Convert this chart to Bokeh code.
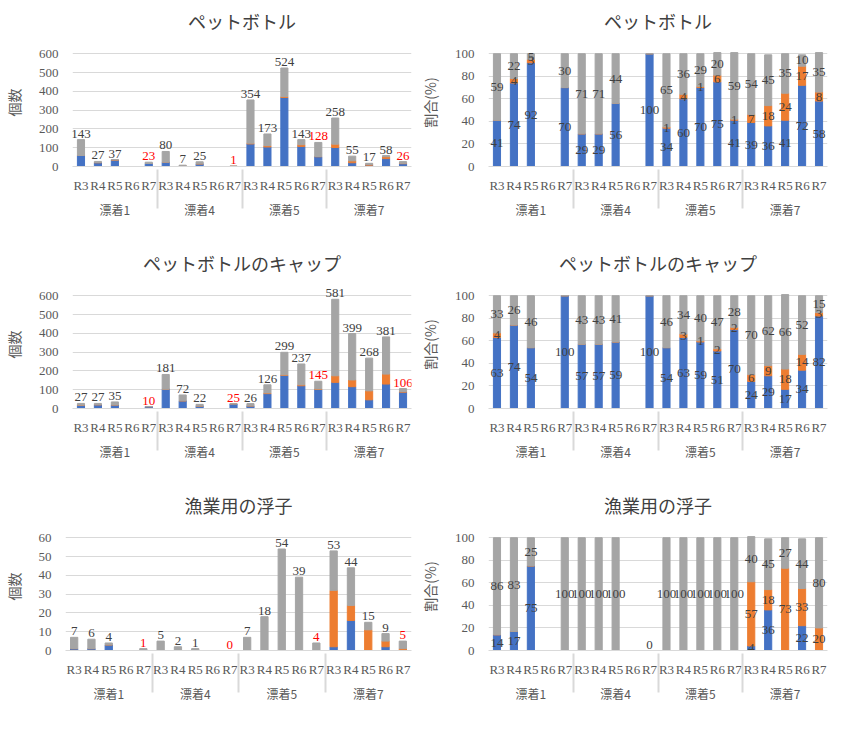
from bokeh.plotting import figure
from bokeh.models import FactorRange, Range1d, Legend, LegendItem, ColumnDataSource
from bokeh.layouts import row
from bokeh.embed import file_html
from bokeh.resources import INLINE
from bokeh.core.properties import value

# ---------------- data ----------------
GROUPS = ["漂着1", "漂着4", "漂着5", "漂着7"]
YEARS = ["R3", "R4", "R5", "R6", "R7"]
SERIES = ["日本", "日本以外", "不明"]
COLORS = ["#4472C4", "#ED7D31", "#A5A5A5"]

# y axis maxima
count_max_big = 600
count_max_small = 60
pct_max = 100

# None = no survey that year
pet_jp =    [59, 20, 34, None, 16,   23, 2, 14, None, 1,   120, 104, 367, 107, 52,   101, 20, 7, 42, 15]
pet_other = [0, 1, 1, None, 0,       0, 0, 0, None, 0,     4, 7, 5, 9, 1,            18, 10, 4, 10, 2]
pet_unk =   [84, 6, 2, None, 7,      57, 5, 11, None, 0,   230, 62, 152, 27, 75,     139, 25, 6, 6, 9]

pet_jp_pct =    [41, 74, 92, None, 70,   29, 29, 56, None, 100,   34, 60, 70, 75, 41,   39, 36, 41, 72, 58]
pet_other_pct = [0, 4, 3, None, 0,       0, 0, 0, None, 0,        1, 4, 1, 6, 1,        7, 18, 24, 17, 8]
pet_unk_pct =   [59, 22, 5, None, 30,    71, 71, 44, None, 0,     65, 36, 29, 20, 59,   54, 45, 35, 10, 35]

cap_jp =    [17, 20, 19, None, 10,   103, 41, 13, None, 25,   14, 79, 176, 121, 101,   139, 116, 46, 130, 87]
cap_other = [1, 0, 0, None, 0,      0, 0, 0, None, 0,        0, 4, 3, 5, 3,           35, 36, 48, 53, 3]
cap_unk =   [9, 7, 16, None, 0,     78, 31, 9, None, 0,      12, 43, 120, 111, 41,    407, 247, 174, 198, 16]

cap_jp_pct =    [63, 74, 54, None, 100,   57, 57, 59, None, 100,   54, 63, 59, 51, 70,   24, 29, 17, 34, 82]
cap_other_pct = [4, 0, 0, None, 0,        0, 0, 0, None, 0,        0, 3, 1, 2, 2,        6, 9, 18, 14, 3]
cap_unk_pct =   [33, 26, 46, None, 0,     43, 43, 41, None, 0,     46, 34, 40, 47, 28,   70, 62, 66, 52, 15]

flt_jp =    [1, 1, 3, None, 0,   0, 0, 0, None, 0,   0, 0, 0, 0, 0,      2, 16, 0, 2, 0]
flt_other = [0, 0, 0, None, 0,   0, 0, 0, None, 0,   0, 0, 0, 0, 0,      30, 8, 11, 3, 1]
flt_unk =   [6, 5, 1, None, 1,   5, 2, 1, None, 0,   7, 18, 54, 39, 4,   21, 20, 4, 4, 4]

flt_jp_pct =    [14, 17, 75, None, 0,     0, 0, 0, None, 0,        0, 0, 0, 0, 0,             4, 36, 0, 22, 0]
flt_other_pct = [0, 0, 0, None, 0,        0, 0, 0, None, 0,        0, 0, 0, 0, 0,             57, 18, 73, 33, 20]
flt_unk_pct =   [86, 83, 25, None, 100,   100, 100, 100, None, 0,  100, 100, 100, 100, 100,   40, 45, 27, 44, 80]

# ---------------- styling ----------------
JP = "Noto Sans CJK JP"
NUM = "Liberation Serif"
GRID = "#D9D9D9"
DARK = "#404040"
AXIS_TXT = "#595959"
RED = "#FF0000"

PANEL_W, PANEL_H = 416, 242
HEADROOM = 1.135

FACTORS = [(g, y) for g in GROUPS for y in YEARS]


def base_fig(title, ymax, ylabel):
    p = figure(width=PANEL_W, height=PANEL_H,
               x_range=FactorRange(*FACTORS, factor_padding=0, group_padding=0, range_padding=0),
               y_range=Range1d(0, ymax * HEADROOM),
               toolbar_location=None, output_backend="svg", title=title)
    p.title.text_font = JP
    p.title.text_font_size = "18px"
    p.title.text_font_style = "normal"
    p.title.text_color = DARK
    p.title.align = "center"
    p.outline_line_color = None
    p.ygrid.grid_line_color = GRID
    p.xgrid.grid_line_color = None
    p.yaxis.axis_line_color = None
    p.yaxis.major_tick_line_color = None
    p.yaxis.minor_tick_line_color = None
    p.yaxis.major_label_standoff = 8
    p.yaxis.major_label_text_font = NUM
    p.yaxis.major_label_text_font_size = "13px"
    p.yaxis.major_label_text_color = AXIS_TXT
    p.yaxis.axis_label = ylabel
    p.yaxis.axis_label_text_font = JP
    p.yaxis.axis_label_text_font_size = "14px"
    p.yaxis.axis_label_text_font_style = "normal"
    p.yaxis.axis_label_text_color = AXIS_TXT
    p.yaxis.axis_label_standoff = 12
    p.xaxis.axis_line_color = GRID
    p.xaxis.major_tick_line_color = None
    p.xaxis.minor_tick_line_color = None
    p.xaxis.major_label_text_font = NUM
    p.xaxis.major_label_text_font_size = "13px"
    p.xaxis.major_label_text_color = AXIS_TXT
    p.xaxis.group_text_font = JP
    p.xaxis.group_text_font_size = "12px"
    p.xaxis.group_text_font_style = "normal"
    p.xaxis.group_text_color = AXIS_TXT
    p.xaxis.separator_line_color = GRID
    # blank axis label reserves room for the legend under the category labels
    p.xaxis.axis_label = " "
    p.xaxis.axis_label_text_font_size = "16px"
    p.xaxis.axis_label_standoff = 2
    return p


def add_bars_legend(p, a, b, c):
    src = ColumnDataSource(dict(x=FACTORS,
                                s0=[v or 0 for v in a],
                                s1=[v or 0 for v in b],
                                s2=[v or 0 for v in c]))
    rs = p.vbar_stack(["s0", "s1", "s2"], x="x", width=0.42, color=COLORS, source=src)
    legend = Legend(items=[LegendItem(label=n, renderers=[r]) for n, r in zip(SERIES, rs)],
                    orientation="horizontal", location=(95, -74),
                    glyph_width=7, glyph_height=7, label_text_font_size="11px",
                    label_text_font=JP, label_text_color=AXIS_TXT, spacing=12,
                    padding=2, margin=0, border_line_color=None, background_fill_alpha=0,
                    label_standoff=3, label_height=12)
    p.add_layout(legend)


def count_panel(title, a, b, c, ymax):
    p = base_fig(title, ymax, "個数")
    add_bars_legend(p, a, b, c)
    lx, ly, lt, lc = [], [], [], []
    for f, va, vb, vc in zip(FACTORS, a, b, c):
        if va is None:
            continue
        tot = va + vb + vc
        lx.append(f); ly.append(tot); lt.append(str(tot))
        lc.append(RED if f[1] == "R7" else DARK)
    src = ColumnDataSource(dict(x=lx, y=ly, t=lt, c=lc))
    p.text(x="x", y="y", text="t", text_color="c", source=src, text_font=value(NUM),
           text_font_size="13px", text_align="center", text_baseline="bottom", y_offset=-2)
    return p


def pct_panel(title, a, b, c):
    p = base_fig(title, pct_max, "割合(%)")
    add_bars_legend(p, a, b, c)
    lx, ly, lt, bx = [], [], [], []
    for f, va, vb, vc in zip(FACTORS, a, b, c):
        if va is None:
            continue
        if va + vb + vc == 0:
            bx.append(f)
            continue
        cum = 0
        for v in (va, vb, vc):
            if v > 0:
                lx.append(f); ly.append(cum + v / 2); lt.append(str(v))
            cum += v
    src = ColumnDataSource(dict(x=lx, y=ly, t=lt))
    p.text(x="x", y="y", text="t", source=src, text_color=DARK, text_font=value(NUM),
           text_font_size="13px", text_align="center", text_baseline="middle")
    if bx:
        src0 = ColumnDataSource(dict(x=bx, y=[0] * len(bx), t=["0"] * len(bx)))
        p.text(x="x", y="y", text="t", source=src0, text_color=DARK, text_font=value(NUM),
               text_font_size="13px", text_align="center", text_baseline="bottom", y_offset=-2)
    return p


p1 = count_panel("ペットボトル", pet_jp, pet_other, pet_unk, count_max_big)
p2 = pct_panel("ペットボトル", pet_jp_pct, pet_other_pct, pet_unk_pct)
p3 = count_panel("ペットボトルのキャップ", cap_jp, cap_other, cap_unk, count_max_big)
p4 = pct_panel("ペットボトルのキャップ", cap_jp_pct, cap_other_pct, cap_unk_pct)
p5 = count_panel("漁業用の浮子", flt_jp, flt_other, flt_unk, count_max_small)
p6 = pct_panel("漁業用の浮子", flt_jp_pct, flt_other_pct, flt_unk_pct)

roots = [row(p1, p2), row(p3, p4), row(p5, p6)]

with open("out.html", "w") as fh:
    fh.write(file_html(roots, INLINE))
